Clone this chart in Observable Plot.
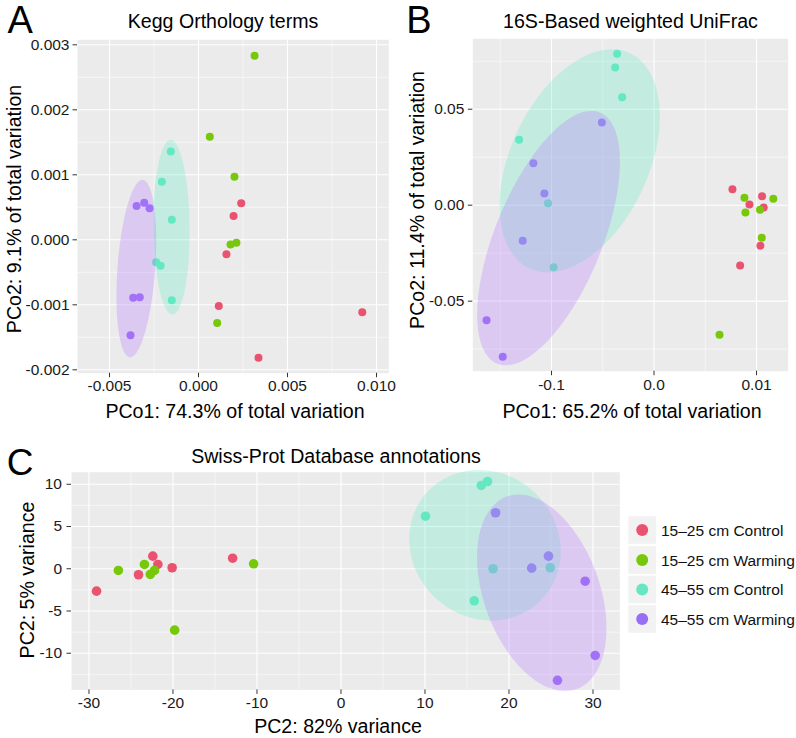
<!DOCTYPE html>
<html><head><meta charset="utf-8">
<script src="https://cdn.jsdelivr.net/npm/d3@7"></script>
<script src="https://cdn.jsdelivr.net/npm/@observablehq/plot@0.6"></script>
<style>
body{margin:0;background:#fff;}
#root{position:relative;width:796px;height:738px;overflow:hidden;font-family:"Liberation Sans",Arial,Helvetica,sans-serif;}
.panel{position:absolute;}
.panel svg{overflow:visible;}
#overlay{position:absolute;left:0;top:0;}
</style></head><body><div id="root"></div>
<script>
// ---------- data ----------
const groups = ["15–25 cm Control", "15–25 cm Warming", "45–55 cm Control", "45–55 cm Warming"];
const groupColors = ["#E9536F", "#77C80A", "#66E6C2", "#996EF7"];
const ellipseFills = ["#5EEDC0", "#B57CFF"];
const sampleGroup = [
  "15–25 cm Control","15–25 cm Control","15–25 cm Control","15–25 cm Control","15–25 cm Control","15–25 cm Control",
  "15–25 cm Warming","15–25 cm Warming","15–25 cm Warming","15–25 cm Warming","15–25 cm Warming","15–25 cm Warming",
  "45–55 cm Control","45–55 cm Control","45–55 cm Control","45–55 cm Control","45–55 cm Control","45–55 cm Control",
  "45–55 cm Warming","45–55 cm Warming","45–55 cm Warming","45–55 cm Warming","45–55 cm Warming","45–55 cm Warming"
];

// Panel A: Kegg Orthology terms
const keggX = [0.0024, 0.00197, 0.00157, 0.00114, 0.0092, 0.00337,
  0.00315, 0.000635, 0.00202, 0.0018, 0.00213, 0.00105,
  -0.001556, -0.00206, -0.0015, -0.00238, -0.00213, -0.0015,
  -0.00348, -0.00305, -0.00275, -0.00367, -0.0033, -0.00382];
const keggY = [0.000561, 0.000368, -0.000221, -0.00102, -0.001115, -0.001816,
  0.00283, 0.001584, 0.00097, -0.000072, -0.000046, -0.00128,
  0.001359, 0.000894, 0.000307, -0.000344, -0.000399, -0.000931,
  0.000521, 0.000572, 0.000485, -0.00089, -0.000885, -0.00147];
const keggXTicks = [-0.005, 0, 0.005, 0.010];
const keggXLabels = ["-0.005", "0.000", "0.005", "0.010"];
const keggYTicks = [-0.002, -0.001, 0, 0.001, 0.002, 0.003];
const keggYLabels = ["-0.002", "-0.001", "0.000", "0.001", "0.002", "0.003"];
// ellipse: [centerX, centerY, halfExtentX, halfExtentY, correlation]
const keggEllipseControl = [-0.001517, 0.000194, 0.00102, 0.001343, -0.05];
const keggEllipseWarming = [-0.003494, -0.000442, 0.001115, 0.001365, 0.31];

// Panel B: 16S-Based weighted UniFrac
const unifracX = [0.0765, 0.1054, 0.0931, 0.107, 0.1038, 0.084,
  0.0882, 0.1164, 0.0892, 0.1034, 0.1051, 0.0639,
  -0.036, -0.0379, -0.0311, -0.1316, -0.1034, -0.098,
  -0.0509, -0.1177, -0.107, -0.1281, -0.1634, -0.1476];
const unifracY = [0.0083, 0.0047, 0.0004, -0.0012, -0.0211, -0.0314,
  0.0039, 0.0033, -0.0038, -0.0024, -0.017, -0.0675,
  0.0789, 0.0717, 0.0563, 0.0341, 0.001, -0.0323,
  0.0431, 0.0219, 0.0061, -0.0185, -0.060, -0.079];
const unifracXTicks = [-0.1, 0, 0.1];
const unifracXLabels = ["-0.1", "0.0", "0.01"];
const unifracYTicks = [-0.05, 0, 0.05];
const unifracYLabels = ["-0.05", "0.00", "0.05"];
const unifracEllipseControl = [-0.0725, 0.0231, 0.0782, 0.0581, 0.40];
const unifracEllipseWarming = [-0.1029, -0.01715, 0.0696, 0.0663, 0.60];

// Panel C: Swiss-Prot Database annotations
const swissX = [-29.1, -24.1, -22.4, -21.8, -20.1, -12.9,
  -26.5, -23.4, -22.7, -22.2, -19.8, -10.4,
  10.06, 16.7, 17.44, 18.1, 24.9, 15.86,
  18.4, 24.7, 22.7, 29.07, 30.26, 25.77];
const swissY = [-2.65, -0.71, 1.49, 0.51, 0.12, 1.25,
  -0.2, 0.51, -0.67, -0.2, -7.27, 0.59,
  6.22, 9.86, 10.33, 0.0, 0.12, -3.79,
  6.63, 1.49, 0.07, -1.47, -10.26, -13.2];
const swissXTicks = [-30, -20, -10, 0, 10, 20, 30];
const swissXLabels = ["-30", "-20", "-10", "0", "10", "20", "30"];
const swissYTicks = [-10, -5, 0, 5, 10];
const swissYLabels = ["-10", "-5", "0", "5", "10"];
const swissEllipseControl = [17.14, 2.79, 9.02, 8.91, -0.08];
const swissEllipseWarming = [23.9, -2.84, 7.7, 11.63, -0.36];

// ---------- helpers ----------
const FONT = '"Liberation Sans", Arial, Helvetica, sans-serif';
const color = {domain: groups, range: groupColors};

function ellipsePoints(e) {
  const [cx, cy, sx, sy, r] = e;
  const k = Math.sqrt(1 - r * r);
  return d3.range(0, 121).map(i => {
    const t = (i / 120) * 2 * Math.PI;
    return {x: cx + sx * Math.cos(t), y: cy + sy * (r * Math.cos(t) + k * Math.sin(t))};
  });
}
function minors(ticks, domain) {
  const step = ticks[1] - ticks[0];
  const out = [ticks[0] - step / 2];
  for (let i = 0; i < ticks.length; i++) out.push(ticks[i] + step / 2);
  const lo = Math.min(...domain), hi = Math.max(...domain);
  return out.filter(v => v > lo && v < hi);
}

function makePanel(o) {
  const idx = d3.range(o.xs.length);
  const xLab = new Map(o.xTicks.map((t, i) => [t, o.xLabels[i]]));
  const yLab = new Map(o.yTicks.map((t, i) => [t, o.yLabels[i]]));
  const ell = (e, c, a) => Plot.line(ellipsePoints(e), {
    x: "x", y: "y", curve: "linear-closed", stroke: "none", fill: c, fillOpacity: a
  });
  return Plot.plot({
    width: o.width, height: o.height,
    marginLeft: o.ml, marginRight: o.mr, marginTop: o.mt, marginBottom: o.mb,
    style: {background: "transparent", fontFamily: FONT, fontSize: "15.5px", color: "#1a1a1a", overflow: "visible"},
    x: {domain: o.xDomain, nice: false},
    y: {domain: o.yDomain, nice: false},
    color,
    marks: [
      Plot.frame({fill: "#EBEBEB", stroke: "none"}),
      Plot.ruleX(minors(o.xTicks, o.xDomain), {stroke: "white", strokeWidth: 0.55}),
      Plot.ruleY(minors(o.yTicks, o.yDomain), {stroke: "white", strokeWidth: 0.55}),
      Plot.ruleX(o.xTicks, {stroke: "white", strokeWidth: 1.1}),
      Plot.ruleY(o.yTicks, {stroke: "white", strokeWidth: 1.1}),
      Plot.dot(idx, {x: i => o.xs[i], y: i => o.ys[i], fill: i => sampleGroup[i], r: o.r, stroke: "none"}),
      ell(o.ellControl, ellipseFills[0], 0.27),
      ell(o.ellWarming, ellipseFills[1], 0.3),
      Plot.axisX(o.xTicks, {tickFormat: d => xLab.get(d), tickSize: 4.5, tickPadding: o.xPad, fontSize: 15.5, label: null, stroke: "#333"}),
      Plot.axisY(o.yTicks, {tickFormat: d => yLab.get(d), tickSize: 4.5, tickPadding: o.yPad, fontSize: 15.5, label: null, stroke: "#333"})
    ]
  });
}

const root = document.getElementById("root");
function place(node, left, top) {
  const d = document.createElement("div");
  d.className = "panel";
  d.style.left = left + "px"; d.style.top = top + "px";
  d.appendChild(node);
  root.appendChild(d);
}

place(makePanel({
  xs: keggX, ys: keggY, xTicks: keggXTicks, xLabels: keggXLabels, yTicks: keggYTicks, yLabels: keggYLabels,
  xDomain: [-0.006798, 0.010691], yDomain: [-0.002052, 0.003077],
  ellControl: keggEllipseControl, ellWarming: keggEllipseWarming,
  width: 396, height: 400, ml: 77, mr: 7.7, mt: 39.3, mb: 27.3, r: 4, xPad: 2.5, yPad: 3.5
}), 0, 0);

place(makePanel({
  xs: unifracX, ys: unifracY, xTicks: unifracXTicks, xLabels: unifracXLabels, yTicks: unifracYTicks, yLabels: unifracYLabels,
  xDomain: [-0.1768, 0.1309], yDomain: [-0.0865, 0.0867],
  ellControl: unifracEllipseControl, ellWarming: unifracEllipseWarming,
  width: 396, height: 400, ml: 72.3, mr: 8.3, mt: 38.3, mb: 29.3, r: 4, xPad: 3, yPad: 4
}), 400, 0);

place(makePanel({
  xs: swissX, ys: swissY, xTicks: swissXTicks, xLabels: swissXLabels, yTicks: swissYTicks, yLabels: swissYLabels,
  xDomain: [-32.08, 33.19], yDomain: [-14.34, 11.43],
  ellControl: swissEllipseControl, ellWarming: swissEllipseWarming,
  width: 625, height: 298, ml: 71, mr: 5.7, mt: 31.7, mb: 48.6, r: 4.8, xPad: 3, yPad: 5
}), 0, 440);

// ---------- text overlay & legend ----------
const svg = d3.select(root).append("svg").attr("id", "overlay")
  .attr("width", 796).attr("height", 738)
  .style("font-family", FONT);
function txt(s, x, y, size, opts = {}) {
  const t = svg.append("text").attr("x", x).attr("y", y)
    .attr("font-size", size).attr("fill", opts.fill || "#000")
    .attr("text-anchor", opts.anchor || "middle").text(s);
  if (opts.rotate) t.attr("transform", `rotate(-90 ${x} ${y})`);
  return t;
}
txt("A", 20.3, 33.3, 38);
txt("Kegg Orthology terms", 223, 28, 19.6);
txt("PCo2: 9.1% of total variation", 20.7, 209, 19.6, {rotate: true});
txt("PCo1: 74.3% of total variation", 235, 418, 19.6);

txt("B", 419, 32.7, 38);
txt("16S-Based weighted UniFrac", 630.5, 28, 19.6);
txt("PCo2: 11.4% of total variation", 423.7, 200, 19.6, {rotate: true});
txt("PCo1: 65.2% of total variation", 632, 418, 19.6);

txt("C", 20, 474.5, 37);
txt("Swiss-Prot Database annotations", 336, 463, 19.6);
txt("PC2: 5% variance", 33.7, 580, 19.6, {rotate: true});
txt("PC2: 82% variance", 338, 732.5, 19.6);

const legY = [530, 560, 589.5, 619];
groups.forEach((g, i) => {
  svg.append("rect").attr("x", 628.3).attr("y", legY[i] - 13.8).attr("width", 27.7).attr("height", 27.6).attr("fill", "#F2F2F2");
  svg.append("circle").attr("cx", 642.2).attr("cy", legY[i]).attr("r", 6).attr("fill", groupColors[i]);
  txt(g, 661, legY[i] + 5.5, 15.5, {anchor: "start", fill: "#111"});
});
</script>
</body></html>
